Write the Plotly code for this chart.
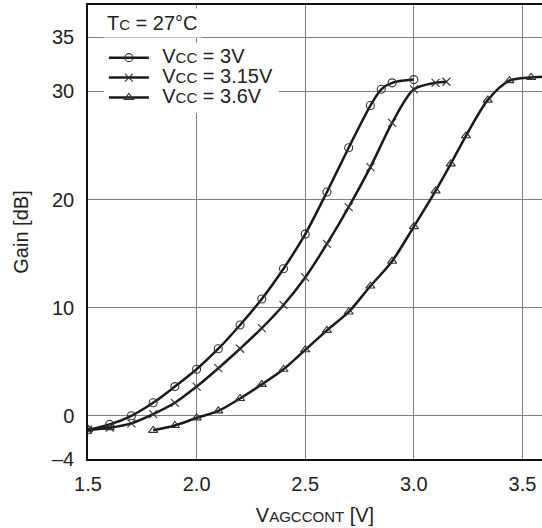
import plotly.graph_objects as go

# ---- data ----
vagc_3v = [1.5, 1.6, 1.7, 1.8, 1.9, 2.0, 2.1, 2.2, 2.3, 2.4, 2.5, 2.6, 2.7, 2.8, 2.85, 2.9, 3.0]
gain_3v = [-1.3, -0.8, 0.0, 1.2, 2.7, 4.3, 6.2, 8.4, 10.8, 13.6, 16.8, 20.7, 24.8, 28.7, 30.2, 30.8, 31.1]

vagc_315 = [1.5, 1.6, 1.7, 1.8, 1.9, 2.0, 2.1, 2.2, 2.3, 2.4, 2.5, 2.6, 2.7, 2.8, 2.9, 3.0, 3.1, 3.15]
gain_315 = [-1.3, -1.1, -0.7, 0.15, 1.2, 2.7, 4.4, 6.2, 8.1, 10.25, 12.8, 15.9, 19.3, 23.0, 27.1, 30.2, 30.8, 30.9]

vagc_36 = [1.5, 1.6, None, 1.8, 1.9, 2.0, 2.1, 2.2, 2.3, 2.4, 2.5, 2.6, 2.7, 2.8, 2.9, 3.0,
           3.1, 3.17, 3.24, 3.34, 3.44, 3.54, 3.65]
gain_36 = [-1.3, -1.1, None, -1.35, -0.9, -0.2, 0.45, 1.6, 2.9, 4.3, 6.1, 7.9, 9.6, 12.0, 14.3, 17.5,
           20.8, 23.3, 25.9, 29.2, 31.0, 31.3, 31.4]

vcc_labels = ["3V", "3.15V", "3.6V"]
series_symbols = ["circle-open", "x-thin", "triangle-up-open"]

x_tickvals = [1.5, 2.0, 2.5, 3.0, 3.5]
x_ticktext = ["1.5", "2.0", "2.5", "3.0", "3.5"]
y_tickvals = [-4, 0, 10, 20, 30, 35]
y_ticktext = ["\u20134", "0", "10", "20", "30", "35"]

FONT = "Liberation Sans, Arial, sans-serif"
INK = "#1a1a1a"


def legend_name(v):
    return ("<span style='font-size:15px'>\u00a0\u00a0</span>"
            "<span style='font-size:20px'>V</span>"
            "<span style='font-size:15px'>CC</span>"
            f"<span style='font-size:20px'> = {v}</span>")


fig = go.Figure()
for xs, ys, v, sym in zip([vagc_3v, vagc_315, vagc_36],
                          [gain_3v, gain_315, gain_36],
                          vcc_labels, series_symbols):
    fig.add_trace(go.Scatter(
        x=xs, y=ys, name=legend_name(v), mode="lines+markers",
        line=dict(color=INK, width=2.5, shape="spline", smoothing=0.8),
        marker=dict(symbol=sym, size=8, color="#333333",
                    line=dict(color="#333333", width=1.1)),
        connectgaps=False, cliponaxis=True,
    ))

fig.update_layout(
    width=542, height=528,
    margin=dict(l=88, r=0, t=5, b=69, autoexpand=False),
    paper_bgcolor="white", plot_bgcolor="white",
    font=dict(family=FONT, size=20, color="#222222"),
    showlegend=True,
    legend=dict(
        x=0.035, y=0.917, xanchor="left", yanchor="top",
        bgcolor="white", borderwidth=0,
        font=dict(family=FONT, size=13, color="#222222"),
        itemwidth=40, tracegroupgap=0,
    ),
    annotations=[dict(
        text="T<span style='font-size:15px'>C</span> = 27°C",
        xref="paper", yref="paper", x=0.033, y=0.96,
        xanchor="left", yanchor="middle", showarrow=False,
        font=dict(family=FONT, size=20, color="#222222"),
        bgcolor="white", borderpad=3,
    )],
)

fig.update_xaxes(
    range=[1.5, 3.59], tickvals=x_tickvals, ticktext=x_ticktext,
    showgrid=True, gridcolor="#808080", gridwidth=1,
    showline=True, linecolor="#111111", linewidth=1.5, mirror=True,
    ticks="", zeroline=False, automargin=False,
    title=dict(text="V<span style='font-size:15px'>AGCCONT</span> [V]",
               font=dict(family=FONT, size=20), standoff=14),
    tickfont=dict(family=FONT, size=20), ticklabelstandoff=6,
)
fig.update_yaxes(
    range=[-4, 38], tickvals=y_tickvals, ticktext=y_ticktext,
    showgrid=True, gridcolor="#808080", gridwidth=1,
    showline=True, linecolor="#111111", linewidth=1.5, mirror=False,
    ticks="", zeroline=False, automargin=False,
    title=dict(text="Gain [dB]", font=dict(family=FONT, size=20), standoff=18),
    tickfont=dict(family=FONT, size=20), ticklabelstandoff=8,
)

fig.write_html("out.html",
               config={"displayModeBar": False},
               post_script="document.body.style.margin='0px';document.body.style.padding='0px';")
